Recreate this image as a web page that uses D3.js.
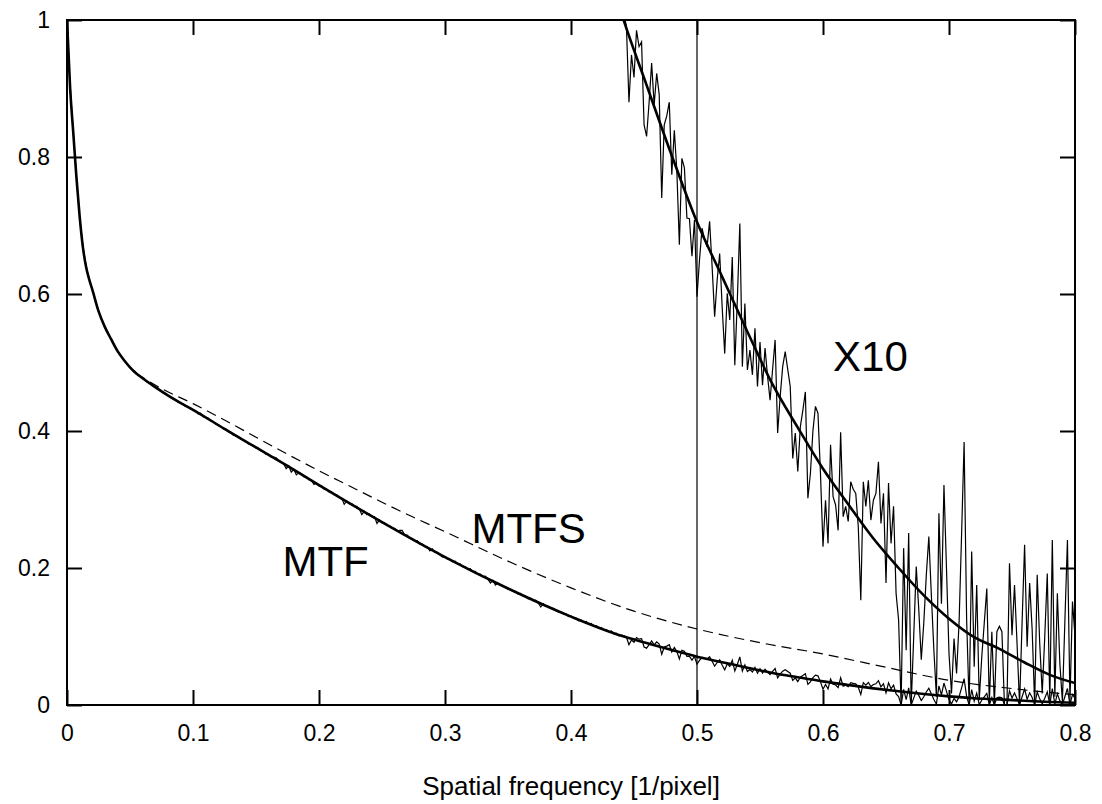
<!DOCTYPE html>
<html>
<head>
<meta charset="utf-8">
<script src="https://cdn.jsdelivr.net/npm/d3@7"></script>
<style>
  body { margin: 0; background: #fff; }
  svg { display: block; font-family: "Liberation Sans", Arial, Helvetica, sans-serif; }
  .tick text { font-size: 23px; fill: #000; }
</style>
</head>
<body>
<svg id="chart" width="1102" height="804"></svg>
<script>
// tick labels
var xTicks = [0, 0.1, 0.2, 0.3, 0.4, 0.5, 0.6, 0.7, 0.8];
var yTicks = [0, 0.2, 0.4, 0.6, 0.8, 1];

// measured MTF, sampled every 0.002 cycles/pixel from 0 to 0.8
var measuredStep = 0.002;
var mtfMeasured = [
  1.000, 0.920, 0.861, 0.809, 0.759, 0.714, 0.679, 0.653, 0.633, 0.619,
  0.607, 0.594, 0.581, 0.570, 0.561, 0.552, 0.545, 0.538, 0.531, 0.524,
  0.517, 0.512, 0.507, 0.502, 0.497, 0.493, 0.489, 0.487, 0.482, 0.480,
  0.478, 0.474, 0.471, 0.470, 0.466, 0.464, 0.463, 0.459, 0.456, 0.455,
  0.452, 0.449, 0.448, 0.446, 0.442, 0.441, 0.439, 0.436, 0.436, 0.432,
  0.431, 0.430, 0.425, 0.426, 0.421, 0.420, 0.419, 0.415, 0.414, 0.410,
  0.409, 0.407, 0.403, 0.403, 0.399, 0.398, 0.394, 0.393, 0.392, 0.388,
  0.387, 0.385, 0.381, 0.380, 0.379, 0.375, 0.375, 0.371, 0.370, 0.366,
  0.366, 0.362, 0.362, 0.361, 0.357, 0.355, 0.352, 0.345, 0.349, 0.340,
  0.344, 0.336, 0.339, 0.338, 0.333, 0.333, 0.329, 0.328, 0.322, 0.324,
  0.320, 0.320, 0.315, 0.315, 0.311, 0.311, 0.307, 0.307, 0.303, 0.302,
  0.293, 0.298, 0.294, 0.294, 0.290, 0.290, 0.286, 0.278, 0.283, 0.278,
  0.279, 0.275, 0.275, 0.265, 0.270, 0.266, 0.266, 0.262, 0.262, 0.258,
  0.258, 0.254, 0.255, 0.255, 0.248, 0.248, 0.244, 0.243, 0.240, 0.240,
  0.235, 0.235, 0.231, 0.231, 0.225, 0.228, 0.223, 0.223, 0.219, 0.216,
  0.217, 0.213, 0.213, 0.209, 0.210, 0.206, 0.206, 0.202, 0.202, 0.198,
  0.199, 0.195, 0.195, 0.191, 0.191, 0.187, 0.188, 0.184, 0.178, 0.182,
  0.175, 0.178, 0.175, 0.173, 0.173, 0.169, 0.169, 0.166, 0.166, 0.162,
  0.163, 0.159, 0.159, 0.155, 0.156, 0.152, 0.153, 0.149, 0.143, 0.148,
  0.144, 0.144, 0.141, 0.141, 0.138, 0.136, 0.136, 0.133, 0.133, 0.129,
  0.130, 0.127, 0.127, 0.123, 0.124, 0.121, 0.122, 0.118, 0.119, 0.115,
  0.116, 0.113, 0.113, 0.110, 0.110, 0.107, 0.108, 0.104, 0.105, 0.101,
  0.102, 0.101, 0.099, 0.088, 0.0949, 0.0916, 0.0985, 0.0961, 0.0968, 0.0847,
  0.083, 0.088, 0.0937, 0.0876, 0.0922, 0.0891, 0.074, 0.0847, 0.086, 0.088,
  0.0774, 0.0839, 0.078, 0.0672, 0.0798, 0.0784, 0.0711, 0.071, 0.0655, 0.0708,
  0.0596, 0.065, 0.0696, 0.068, 0.0669, 0.0706, 0.064, 0.0567, 0.062, 0.0659,
  0.058, 0.0513, 0.0601, 0.0562, 0.0654, 0.0496, 0.0591, 0.0703, 0.0494, 0.0586,
  0.0489, 0.0518, 0.0482, 0.055, 0.0465, 0.053, 0.0467, 0.0521, 0.048, 0.0445,
  0.049, 0.0533, 0.0397, 0.045, 0.0494, 0.0516, 0.049, 0.0465, 0.036, 0.0397,
  0.0341, 0.0406, 0.043, 0.0457, 0.0302, 0.0338, 0.040, 0.0436, 0.0426, 0.0338,
  0.0231, 0.0299, 0.0236, 0.038, 0.0304, 0.0292, 0.0255, 0.0398, 0.0275, 0.029,
  0.0268, 0.0326, 0.0315, 0.0309, 0.026, 0.0153, 0.0326, 0.029, 0.0328, 0.027,
  0.0299, 0.0309, 0.0355, 0.0265, 0.0309, 0.0178, 0.0324, 0.0236, 0.029, 0.0163,
  0.0124, 0, 0.0229, 0.008, 0.0251, 0, 0.010, 0.0202, 0.014, 0.0066,
  0.012, 0.019, 0.0246, 0.016, 0.008, 0.0012, 0.028, 0.0148, 0.0321, 0.020,
  0.0075, 0.0017, 0.0097, 0.0046, 0.012, 0.025, 0.0384, 0.0124, 0, 0.0224,
  0.0056, 0.0175, 0.0007, 0.007, 0.012, 0.017, 0.0002, 0.0107, 0, 0.0107,
  0.0115, 0.0107, 0, 0, 0.0207, 0.0102, 0.0175, 0.009, 0, 0.012,
  0.0234, 0.0085, 0.0178, 0.011, 0, 0.019, 0.009, 0.0017, 0.010, 0.0192,
  0.0005, 0.0241, 0.0012, 0.0163, 0.006, 0.0005, 0.0124, 0.0241, 0.0005, 0.0151,
  0.010
];

// fitted (smooth) MTF
var fitFreq = [0, 0.0025, 0.005, 0.0075, 0.01, 0.0125, 0.015, 0.0175, 0.02, 0.025,
  0.03, 0.035, 0.04, 0.045, 0.05, 0.055, 0.06, 0.07, 0.08, 0.09,
  0.1, 0.125, 0.15, 0.175, 0.2, 0.25, 0.3, 0.35, 0.4, 0.44,
  0.46, 0.48, 0.5, 0.52, 0.54, 0.56, 0.58, 0.6, 0.62, 0.64,
  0.66, 0.68, 0.7, 0.72, 0.74, 0.76, 0.78, 0.8];
var mtfFit = [1.0, 0.900, 0.835, 0.770, 0.714, 0.670, 0.641, 0.622, 0.607, 0.575,
  0.552, 0.534, 0.517, 0.504, 0.493, 0.484, 0.477, 0.464, 0.452, 0.441,
  0.431, 0.403, 0.376, 0.349, 0.321, 0.267, 0.216, 0.170, 0.129, 0.101,
  0.0905, 0.0802, 0.0705, 0.0625, 0.0545, 0.0468, 0.0405, 0.0345, 0.0293, 0.0243,
  0.0200, 0.0160, 0.0126, 0.0099, 0.0082, 0.0062, 0.0044, 0.0032];

// MTFS (dashed)
var mtfsFreq = [0.055, 0.076, 0.1, 0.125, 0.15, 0.175, 0.2, 0.225, 0.25, 0.275, 0.3,
  0.35, 0.4, 0.45, 0.5, 0.55, 0.6, 0.65, 0.7, 0.75, 0.8];
var mtfs = [0.484, 0.461, 0.440, 0.416, 0.391, 0.366, 0.342, 0.319, 0.296, 0.274, 0.253,
  0.210, 0.171, 0.137, 0.111, 0.091, 0.0745, 0.055, 0.036, 0.024, 0.015];

var nyquistFreq = 0.5;

var margin = {top: 20, right: 27, bottom: 99, left: 67},
    width = 1102 - margin.left - margin.right,
    height = 804 - margin.top - margin.bottom;

var x = d3.scaleLinear().domain([0, 0.8]).range([0, width]);
var y = d3.scaleLinear().domain([0, 1]).range([height, 0]);
// same frame, values magnified ten times
var y10 = d3.scaleLinear().domain([0, 0.1]).range([height, 0]);

var svg = d3.select("#chart");
svg.append("defs").append("clipPath").attr("id", "plotclip")
  .append("rect").attr("width", width).attr("height", height);

var g = svg.append("g")
  .attr("transform", "translate(" + margin.left + "," + margin.top + ")");

var measured = mtfMeasured.map(function(v, i) { return {f: i * measuredStep, v: v}; });
var fit = fitFreq.map(function(f, i) { return {f: f, v: mtfFit[i]}; });
var mtfsData = mtfsFreq.map(function(f, i) { return {f: f, v: mtfs[i]}; });

function lineFor(ys, curve) {
  return d3.line()
    .x(function(d) { return x(d.f); })
    .y(function(d) { return ys(d.v); })
    .curve(curve || d3.curveLinear);
}

var plot = g.append("g").attr("clip-path", "url(#plotclip)");

// vertical line at 0.5
plot.append("line")
  .attr("x1", x(nyquistFreq)).attr("x2", x(nyquistFreq))
  .attr("y1", y(0)).attr("y2", y(1))
  .attr("stroke", "#000").attr("stroke-width", 1.2);

// dashed MTFS
plot.append("path")
  .datum(mtfsData)
  .attr("d", lineFor(y, d3.curveMonotoneX))
  .attr("fill", "none").attr("stroke", "#000")
  .attr("stroke-width", 1.2).attr("stroke-dasharray", "10,6");

// measured curves (x1 and x10)
plot.append("path")
  .datum(measured)
  .attr("d", lineFor(y))
  .attr("fill", "none").attr("stroke", "#000").attr("stroke-width", 1.2);

plot.append("path")
  .datum(measured.filter(function(d) { return d.f >= 0.43; }))
  .attr("d", lineFor(y10))
  .attr("fill", "none").attr("stroke", "#000").attr("stroke-width", 1.2);

// fitted curves (x1 and x10)
plot.append("path")
  .datum(fit)
  .attr("d", lineFor(y, d3.curveMonotoneX))
  .attr("fill", "none").attr("stroke", "#000").attr("stroke-width", 2.6);

plot.append("path")
  .datum(fit.filter(function(d) { return d.f >= 0.4; }))
  .attr("d", lineFor(y10, d3.curveMonotoneX))
  .attr("fill", "none").attr("stroke", "#000").attr("stroke-width", 2.6);

// axes, ticks pointing inward on all sides
var fmt = function(d) { return String(d); };

g.append("g")
  .attr("transform", "translate(0," + height + ")")
  .call(d3.axisBottom(x).tickValues(xTicks).tickFormat(fmt).tickSize(-15).tickPadding(20))
  .call(function(a) { a.select(".domain").remove(); });

g.append("g")
  .call(d3.axisTop(x).tickValues(xTicks).tickFormat("").tickSize(-15))
  .call(function(a) { a.select(".domain").remove(); });

g.append("g")
  .call(d3.axisLeft(y).tickValues(yTicks).tickFormat(fmt).tickSize(-15).tickPadding(17))
  .call(function(a) { a.select(".domain").remove(); });

g.append("g")
  .attr("transform", "translate(" + width + ",0)")
  .call(d3.axisRight(y).tickValues(yTicks).tickFormat("").tickSize(-15))
  .call(function(a) { a.select(".domain").remove(); });

g.selectAll(".tick line").attr("stroke", "#000").attr("stroke-width", 2);

g.append("rect")
  .attr("width", width).attr("height", height)
  .attr("fill", "none").attr("stroke", "#000").attr("stroke-width", 2);

// x axis title
g.append("text")
  .attr("x", width / 2).attr("y", height + 90)
  .attr("text-anchor", "middle")
  .style("font-size", "26px")
  .text("Spatial frequency [1/pixel]");

// curve labels
var labels = [
  {text: "MTF", f: 0.171, v: 0.189},
  {text: "MTFS", f: 0.321, v: 0.237},
  {text: "X10", f: 0.608, v: 0.488}
];
g.selectAll(".curve-label")
  .data(labels)
  .enter().append("text")
  .attr("class", "curve-label")
  .attr("x", function(d) { return x(d.f); })
  .attr("y", function(d) { return y(d.v); })
  .style("font-size", "42px")
  .text(function(d) { return d.text; });
</script>
</body>
</html>
